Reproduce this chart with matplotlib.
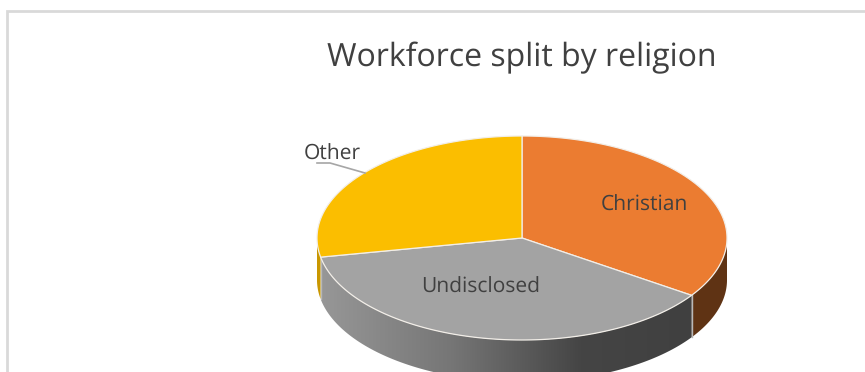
import numpy as np
import matplotlib
matplotlib.use("Agg")
import matplotlib.pyplot as plt
from matplotlib.patches import Polygon, Rectangle
from matplotlib.colors import LinearSegmentedColormap

categories = ["Christian", "Undisclosed", "Other"]
shares = [34.5, 37.5, 28.0]
top_colors = ["#EB7C31", "#A3A3A3", "#FBBE00"]
side_colors = ["#5F3314", None, "#C99700"]
title = "Workforce split by religion"

W, H = 865, 372
CX, CY, RX, RY, DEPTH = 522.0, 238.0, 205.0, 102.0, 42.0

plt.rcParams["font.family"] = ["Open Sans", "DejaVu Sans"]
plt.rcParams["text.hinting"] = "none"
plt.rcParams["text.hinting_factor"] = 1
fig = plt.figure(figsize=(W / 100, H / 100), dpi=100, facecolor="white")
ax = fig.add_axes([0, 0, 1, 1])

# Unit circle in data space is squashed into the tilted pie's ellipse.
ax.set_xlim(-CX / RX, (W - CX) / RX)
ax.set_ylim(-(H - CY) / RY, CY / RY)
ax.axis("off")
drop = DEPTH / RY


def rim(a0, a1, n=240):
    a = np.radians(np.linspace(a0, a1, n))
    return np.sin(a), np.cos(a)


fractions = np.array(shares) / sum(shares)
edges = np.concatenate([[0.0], np.cumsum(fractions) * 360.0])

# Outer walls, only where the rim faces the viewer (90 to 270 degrees).
wall_cmap = LinearSegmentedColormap.from_list(
    "wall", [(0, "#979797"), (0.35, "#767676"), (0.7, "#454545"), (1, "#404040")]
)
for i in range(len(categories)):
    lo, hi = max(edges[i], 90.0), min(edges[i + 1], 270.0)
    if hi <= lo:
        continue
    x, y = rim(lo, hi)
    outline = np.column_stack(
        [np.r_[x, x[::-1]], np.r_[y, y[::-1] - drop]]
    )
    wall = Polygon(outline, closed=True, zorder=2, facecolor=side_colors[i] or "none",
                   edgecolor="none")
    ax.add_patch(wall)
    if side_colors[i] is None:
        img = ax.imshow(
            np.linspace(0, 1, 256)[None, :],
            cmap=wall_cmap,
            extent=(x.min(), x.max(), y.min() - drop, y.max()),
            aspect="auto",
            zorder=2,
        )
        img.set_clip_path(wall)
    # Seam at the front end of the wall
    if lo == edges[i] and i > 0:
        ax.plot([x[0], x[0]], [y[0], y[0] - drop], color="#B8B8B8", lw=1, zorder=3)

# Top faces
for i in range(len(categories)):
    x, y = rim(edges[i], edges[i + 1])
    face = np.column_stack([np.r_[0.0, x], np.r_[0.0, y]])
    ax.add_patch(Polygon(face, closed=True, facecolor=top_colors[i],
                         edgecolor="#F2EEE8", lw=0.9, joinstyle="round", zorder=4))

ax.set_xlim(-CX / RX, (W - CX) / RX)
ax.set_ylim(-(H - CY) / RY, CY / RY)

text_color = "#404040"
ax.text((644.5 - CX) / RX, (CY - 205) / RY, categories[0], ha="center", va="center",
        fontsize=15, color=text_color, zorder=6)
ax.text((481 - CX) / RX, (CY - 287) / RY, categories[1], ha="center", va="center",
        fontsize=15, color=text_color, zorder=6)
ax.text((332.5 - CX) / RX, (CY - 154) / RY, categories[2], ha="center", va="center",
        fontsize=15, color=text_color, zorder=6)

# Leader line for the outside label
ax.plot((np.array([317, 330, 365]) - CX) / RX, (CY - np.array([163, 163, 173])) / RY,
        color="#A6A6A6", lw=1.2, zorder=5)

fig.text(522 / W, 1 - 58 / H, title, ha="center", va="center", fontsize=23.4, color=text_color)

# Chart frame
fig.add_artist(Rectangle((7 / W, -0.1), (W + 20) / W, 1.1 - 11 / H, transform=fig.transFigure,
                         facecolor="none", edgecolor="#D9D9D9", lw=2.0))

fig.savefig("out.png", dpi=100, facecolor="white")
